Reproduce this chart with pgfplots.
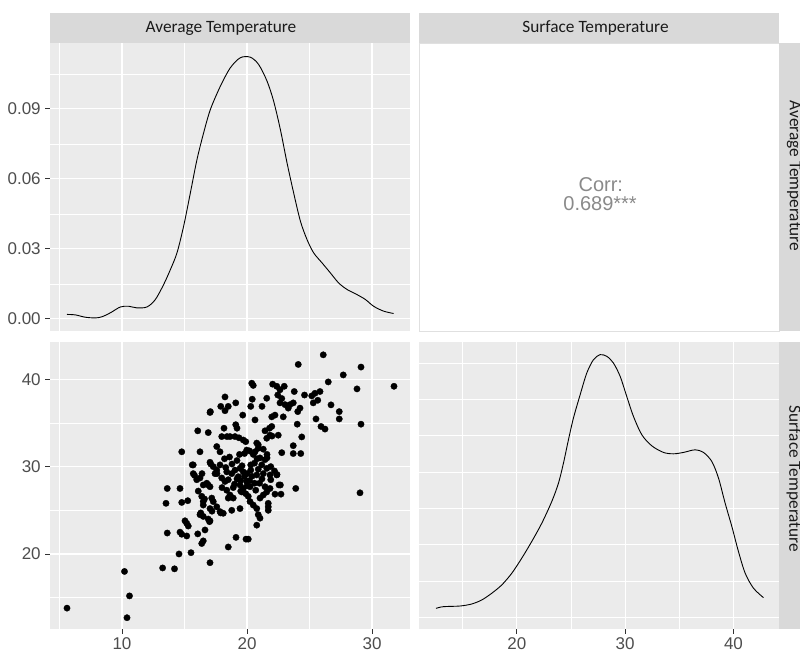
\documentclass[border=0pt]{standalone}
\usepackage{pgfplots}
\pgfplotsset{compat=1.18}
\usepackage{fontspec}
\setmainfont{Liberation Sans}
\newfontfamily\stripfont{Carlito}

\definecolor{panelbg}{HTML}{EBEBEB}
\definecolor{stripbg}{HTML}{D9D9D9}
\definecolor{ticktext}{HTML}{4D4D4D}
\definecolor{tickmark}{HTML}{333333}
\definecolor{corrtext}{HTML}{8A8A8A}
\definecolor{striptext}{HTML}{1A1A1A}

\pgfplotsset{
  ggpanel/.style={
    scale only axis, width=360pt, anchor=south west,
    axis background/.style={fill=panelbg},
    axis line style={draw=none},
    scaled ticks=false,
    grid=both,
    major grid style={white, line width=1.1pt},
    minor grid style={white, line width=0.55pt},
    tick align=outside,
    tick pos=left,
    major tick length=4.5pt,
    minor tick length=0pt,
    tick style={tickmark, line width=0.8pt},
    ticklabel style={font=\fontsize{17}{19}\selectfont, text=ticktext},
    xticklabel style={inner sep=0pt, anchor=north, yshift=-3.6pt},
    yticklabel style={inner sep=0pt, anchor=east, xshift=-4.6pt},
  },
  notickx/.style={xticklabels={}, major x tick style={draw=none}},
  noticky/.style={yticklabels={}, major y tick style={draw=none}},
  density/.style={black, line width=0.9pt, smooth, tension=0.5},
}
\tikzset{strip/.style={text=striptext, font=\stripfont\fontsize{17.3}{20}\selectfont}}

\begin{document}
\begin{tikzpicture}[x=1pt, y=1pt]
\useasboundingbox (0,0) rectangle (800,651);
\clip (0,0) rectangle (800,651);

% ---------- Average Temperature: density (row 1, col 1)
\begin{axis}[ggpanel, at={(50pt,320pt)}, height=288pt,
  xmin=4.24, xmax=33.04, ymin=-0.0052, ymax=0.1182,
  xtick={10,20,30}, minor xtick={5,15,25},
  ytick={0,0.03,0.06,0.09}, minor ytick={0.015,0.045,0.075,0.105},
  yticklabels={0.00,0.03,0.06,0.09},
  notickx]
\addplot[density] coordinates {
(5.6,0.0019) (6.27,0.0017) (7.07,0.0007) (7.87,0.0004) (8.4,0.0009)
(9.07,0.0026) (9.87,0.0051) (10.53,0.0054) (11.2,0.0047) (12.0,0.0051)
(12.67,0.0083) (13.33,0.0147) (13.87,0.0211) (14.4,0.0283) (14.93,0.0397)
(15.47,0.0540) (16.0,0.0683) (16.53,0.0797) (17.07,0.0897) (17.87,0.0997)
(18.67,0.1076) (19.47,0.1119) (20.27,0.1121) (20.93,0.1090) (21.6,0.1019)
(22.13,0.0933) (22.67,0.0811) (23.2,0.0669) (23.73,0.0540) (24.27,0.0419)
(24.8,0.0340) (25.33,0.0283) (26.0,0.0240) (26.67,0.0197) (27.33,0.0154)
(28.0,0.0126) (28.8,0.0104) (29.47,0.0083) (30.13,0.0054) (30.93,0.0033)
(31.73,0.0023)
};
\end{axis}

% ---------- Correlation panel (row 1, col 2)
\begin{axis}[at={(419pt,320pt)}, anchor=south west, scale only axis,
  width=360pt, height=288pt, xmin=0, xmax=1, ymin=0, ymax=1,
  axis background/.style={fill=white},
  axis line style={draw=black!12, line width=0.8pt},
  xtick=\empty, ytick=\empty]
\node[text=corrtext, font=\fontsize{20}{24}\selectfont, anchor=base]
  at (axis description cs:0.505,0.485) {Corr:};
\node[text=corrtext, font=\fontsize{20}{24}\selectfont, anchor=base]
  at (axis description cs:0.503,0.419) {0.689***};
\end{axis}

% ---------- Scatter (row 2, col 1)
\begin{axis}[ggpanel, at={(50pt,22pt)}, height=287pt,
  xmin=4.24, xmax=33.04, ymin=11.41, ymax=44.27,
  xtick={10,20,30}, minor xtick={5,15,25},
  xticklabels={10,20,30},
  ytick={20,30,40}, minor ytick={15,25,35},
  yticklabels={20,30,40}]
\addplot[only marks, mark=*, mark size=3.2pt,
  mark options={fill=black, draw=black, line width=0.3pt}] coordinates {
(5.6,13.8) (10.2,18.0) (10.6,15.2) (10.4,12.7) (13.25,18.4) (14.2,18.3)
(14.56,20.0) (15.52,20.15) (17.04,19.0) (18.5,20.8) (19.12,21.9) (19.92,21.7)
(20.1,21.7) (20.78,23.3) (13.62,22.4) (14.64,22.5) (14.78,22.26) (15.18,22.06)
(16.06,22.3) (15.04,23.8) (15.18,23.5) (15.3,23.2) (16.64,22.75) (16.38,21.2)
(16.5,21.5) (13.62,27.5) (14.64,27.5) (13.52,25.8) (14.78,25.9) (15.26,26.1)
(16.24,24.5) (16.5,24.3) (16.9,24.0) (17.04,23.8) (16.38,26.6) (16.5,26.0)
(16.5,25.6) (17.18,26.4) (17.3,26.0) (17.04,25.2) (17.58,25.4) (17.84,24.85)
(18.1,24.66) (15.7,29.2) (15.98,28.5) (16.24,28.7) (16.78,28.1) (17.04,27.7)
(16.5,27.9) (15.62,30.2) (17.04,30.5) (17.3,30.0) (17.58,29.6) (17.84,30.2)
(17.44,29.2) (17.98,28.7) (18.24,28.3) (18.5,28.5) (18.38,29.4) (18.78,29.2)
(19.04,29.6) (19.44,29.8) (19.7,29.4) (19.3,28.85) (18.38,27.3) (18.64,26.75)
(18.9,26.4) (18.5,26.4) (19.44,27.9) (19.7,27.5) (19.98,28.3) (19.58,27.1)
(20.24,27.7) (20.24,26.0) (20.5,25.6) (21.04,26.4) (21.3,26.75) (20.78,25.2)
(19.44,25.2) (18.78,25.0) (20.9,24.5) (21.04,24.1) (21.7,25.4) (21.58,27.1)
(21.84,27.5) (21.44,27.7) (20.78,29.05) (21.3,29.2) (21.58,29.8) (21.18,30.2)
(21.04,31.0) (21.44,30.8) (21.84,29.05) (22.38,29.05) (22.56,27.9) (22.72,26.85)
(22.24,26.85) (23.9,27.5) (29.04,27.0) (22.4,29.1) (22.67,27.9) (21.7,25.8)
(21.7,25.0) (16.1,27.2) (16.3,24.7) (16.6,26.3) (15.8,29.0) (15.7,30.2)
(16.4,29.2) (16.9,27.9) (17.1,30.3) (17.6,29.2) (17.2,24.9) (17.9,24.7)
(17.0,23.7) (14.78,31.7) (16.24,31.7) (17.58,32.3) (17.84,31.7) (16.06,34.1)
(16.9,33.9) (18.16,34.4) (19.1,34.8) (19.2,34.4) (17.98,33.44) (18.4,33.44)
(18.64,33.44) (19.04,33.44) (19.36,33.3) (19.7,33.05) (19.9,32.86) (21.44,34.1)
(21.98,34.6) (21.84,33.6) (21.58,33.25) (19.98,31.9) (20.78,32.7) (20.9,32.1)
(20.64,31.7) (18.6,31.1) (17.04,36.2) (17.9,36.9) (18.5,36.9) (18.24,36.4)
(18.24,37.98) (19.1,37.3) (19.66,35.9) (20.3,36.9) (21.2,36.9) (20.64,35.35)
(21.98,35.7) (20.38,39.55) (20.5,39.3) (20.42,37.72) (21.58,37.83) (17.07,36.3)
(22.05,39.44) (22.38,39.2) (22.64,38.8) (22.98,39.2) (22.46,38.2) (22.78,37.8)
(22.64,37.3) (23.04,37.1) (23.78,38.6) (24.6,38.2) (25.18,38.1) (25.44,38.4)
(25.84,38.6) (25.66,37.6) (25.3,37.3) (23.44,37.1) (23.7,37.3) (23.3,36.7)
(24.24,36.7) (24.06,36.3) (26.72,37.07) (27.38,36.3) (27.38,35.46) (25.52,35.46)
(25.92,34.6) (26.24,34.3) (29.12,34.86) (24.02,34.86) (22.24,35.9) (22.9,35.7)
(24.38,33.4) (22.5,33.6) (23.7,32.4) (22.78,31.6) (23.7,31.5) (24.3,31.5)
(26.1,42.8) (24.1,41.7) (29.12,41.4) (27.7,40.5) (26.5,39.7) (28.8,38.9)
(31.76,39.2) (22.0,33.5) (21.8,34.4) (20.9,32.5)
(19.0,28.0) (19.2,28.6) (19.5,28.4) (19.8,28.9) (20.0,27.8) (20.2,28.4)
(20.4,28.9) (20.6,28.1) (20.0,29.2) (20.3,29.6) (19.6,30.1) (20.6,30.4)
(20.8,30.9) (20.5,31.4) (20.2,31.8) (19.8,31.5) (19.2,30.7) (18.8,30.3)
(18.2,30.9) (19.5,27.2) (20.7,27.3) (21.0,28.1) (20.1,26.6) (19.9,26.9)
(18.9,27.6) (18.0,27.6) (18.3,29.9) (20.9,29.7) (21.2,28.6) (20.3,30.2)
(19.4,31.4) (21.6,31.4) (21.3,32.0) (21.6,31.0) (21.9,30.0) (22.2,29.5)
(21.9,28.5)
};
\end{axis}

% ---------- Surface Temperature: density (row 2, col 2)
\begin{axis}[ggpanel, at={(419pt,22pt)}, height=287pt,
  xmin=10.98, xmax=44.2, ymin=-0.00156, ymax=0.03789,
  xtick={20,30,40}, minor xtick={15,25,35},
  xticklabels={20,30,40},
  ytick={0,0.01,0.02,0.03}, minor ytick={0.005,0.015,0.025,0.035},
  noticky]
\addplot[density] coordinates {
(12.55,0.00128) (13.23,0.00151) (14.77,0.00160) (15.85,0.00188) (16.77,0.00243)
(17.69,0.00335) (18.62,0.00450) (19.54,0.00610) (20.46,0.00817) (21.38,0.01046)
(22.31,0.01298) (23.23,0.01596) (23.85,0.01849) (24.31,0.02124) (24.77,0.02445)
(25.23,0.02743) (25.85,0.03064) (26.46,0.03362) (27.08,0.03546) (27.69,0.03615)
(28.31,0.03592) (28.92,0.03500) (29.54,0.03317) (30.15,0.03041) (30.77,0.02766)
(31.54,0.02514) (32.46,0.02362) (33.54,0.02271) (34.46,0.02252) (35.38,0.02271)
(36.46,0.02307) (37.23,0.02271) (38.0,0.02147) (38.62,0.01917) (39.23,0.01573)
(39.85,0.01252) (40.46,0.00908) (41.08,0.00610) (41.85,0.00404) (42.77,0.00275)
};
\end{axis}

% ---------- facet strips
\fill[stripbg] (50,608) rectangle (410,638);
\node[strip] at (221,623) {Average Temperature};
\fill[stripbg] (419,608) rectangle (779,638);
\node[strip] at (595.5,623) {Surface Temperature};
\fill[stripbg] (779,320) rectangle (809,608);
\node[strip, rotate=-90] at (794,475) {Average Temperature};
\fill[stripbg] (779,22) rectangle (809,309);
\node[strip, rotate=-90] at (794,172) {Surface Temperature};
\end{tikzpicture}
\end{document}
